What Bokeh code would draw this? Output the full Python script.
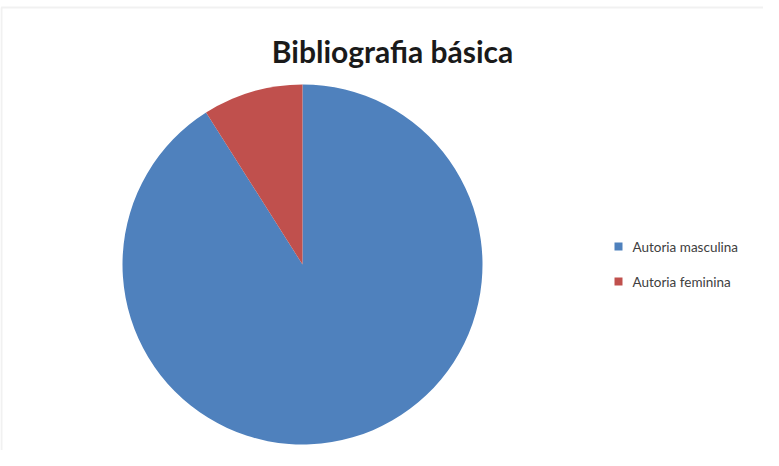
import numpy as np
from bokeh.plotting import figure
from bokeh.models import ColumnDataSource, Range1d, BoxAnnotation
from bokeh.core.properties import value
from bokeh.embed import file_html
from bokeh.resources import INLINE

# Data
title_text = "Bibliografia básica"
categories = ["Autoria masculina", "Autoria feminina"]
shares = [91, 9]
colors = ["#4f81bd", "#c0504d"]

W, H = 763, 450
p = figure(width=W, height=H, output_backend="svg", toolbar_location=None,
           x_range=Range1d(0, W), y_range=Range1d(0, H), min_border=0)
p.axis.visible = False
p.grid.visible = False
p.outline_line_color = None
p.background_fill_color = "white"
p.border_fill_color = "white"

# chart frame (extends beyond the visible area to the right / bottom)
p.add_layout(BoxAnnotation(left=1, top=443, bottom=-20, right=W + 20,
                           fill_alpha=0, line_color="#cfcfcf", line_width=2))

# pie
frac = np.array(shares, dtype=float) / sum(shares)
ends = np.pi / 2 - np.cumsum(frac) * 2 * np.pi
starts = np.concatenate([[np.pi / 2], ends[:-1]])
src = ColumnDataSource(dict(cat=categories, start=starts, end=ends, color=colors))
p.wedge(x=302, y=186, radius=180, start_angle="end", end_angle="start",
        direction="anticlock", fill_color="color", line_color=None, source=src)

# title
p.text(x=[392], y=[400], text=[title_text], text_align="center", text_baseline="alphabetic",
       text_font=value("Lato"), text_font_style="bold", text_font_size="30px",
       text_color="#1a1a1a")

# legend
leg = ColumnDataSource(dict(cat=categories, color=colors,
                            y=[458 - 254, 458 - 289]))
p.rect(x=618, y="y", width=8, height=8, fill_color="color", line_color=None, source=leg)
p.text(x=632, y="y", text="cat", text_baseline="middle", text_font=value("Lato"),
       text_font_size="13.5px", text_color="#404040", source=leg)

open("out.html", "w").write(file_html(p, INLINE))
